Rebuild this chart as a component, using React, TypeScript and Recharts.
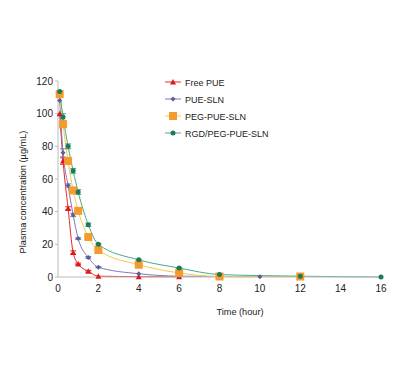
import React from 'react';
import { LineChart, Line, XAxis, YAxis, ErrorBar } from 'recharts';

const seriesNames = ['Free PUE', 'PUE-SLN', 'PEG-PUE-SLN', 'RGD/PEG-PUE-SLN'];

const freeTime = [0.083, 0.25, 0.5, 0.75, 1, 1.5, 2, 4, 6];
const freeConc = [100, 71, 42, 15, 8, 3.5, 0.5, 0.2, 0.1];
const freeErr = [0, 2, 1, 1, 0.5, 0.5, 0, 0, 0];

const slnTime = [0.083, 0.25, 0.5, 0.75, 1, 1.5, 2, 4, 6, 10];
const slnConc = [108, 76, 56, 38, 23.5, 12, 6, 2, 0.5, 0.2];
const slnErr = [0, 2.5, 1, 1, 0.5, 0.5, 0.3, 0, 0, 0];

const pegTime = [0.083, 0.25, 0.5, 0.75, 1, 1.5, 2, 4, 6, 8, 12];
const pegConc = [112, 93.5, 71, 53, 40.5, 24.5, 16.5, 7.5, 2.5, 0.3, 0.3];
const pegErr = [0, 1, 1, 1, 1, 1, 0.5, 0.5, 0, 0, 0];

const rgdTime = [0.083, 0.25, 0.5, 0.75, 1, 1.5, 2, 4, 6, 8, 12, 16];
const rgdConc = [113.5, 98, 80, 65, 52, 32, 20, 10.5, 5.5, 1.5, 0.5, 0];
const rgdErr = [0, 2, 1.5, 1.5, 1.5, 1, 0.5, 0.3, 0.3, 0, 0, 0];

const xTicks = [0, 2, 4, 6, 8, 10, 12, 14, 16];
const yTicks = [0, 20, 40, 60, 80, 100, 120];

const font = 'Liberation Sans, Arial, sans-serif';

const build = (t: number[], c: number[], e: number[]) =>
  t.map((time, i) => ({ time, conc: c[i], err: e[i] }));

const Tri = (props: any) => {
  const { cx, cy } = props;
  if (cx == null || cy == null) return null;
  return <polygon points={`${cx},${cy - 3} ${cx - 3},${cy + 2.5} ${cx + 3},${cy + 2.5}`} fill="#e0161c" />;
};
const Dia = (props: any) => {
  const { cx, cy } = props;
  if (cx == null || cy == null) return null;
  return <polygon points={`${cx},${cy - 2.5} ${cx + 2.5},${cy} ${cx},${cy + 2.5} ${cx - 2.5},${cy}`} fill="#5c5c98" />;
};
const Sq = (props: any) => {
  const { cx, cy } = props;
  if (cx == null || cy == null) return null;
  return <rect x={cx - 4} y={cy - 4} width={8} height={8} fill="#f59a2c" />;
};
const Circ = (props: any) => {
  const { cx, cy } = props;
  if (cx == null || cy == null) return null;
  return <circle cx={cx} cy={cy} r={2.5} fill="#1b7a58" />;
};

const series = [
  { name: seriesNames[0], data: build(freeTime, freeConc, freeErr), line: '#e8282c', dot: Tri },
  { name: seriesNames[1], data: build(slnTime, slnConc, slnErr), line: '#7b7bb0', dot: Dia },
  { name: seriesNames[2], data: build(pegTime, pegConc, pegErr), line: '#f6c94a', dot: Sq },
  { name: seriesNames[3], data: build(rgdTime, rgdConc, rgdErr), line: '#4aaa86', dot: Circ },
];

const LegendBox = () => (
  <svg width={140} height={72} style={{ position: 'absolute', left: 163, top: 74 }}>
    {series.map((s, i) => {
      const y = 8 + i * 17;
      const D = s.dot;
      return (
        <g key={s.name}>
          <line x1={2} x2={18} y1={y} y2={y} stroke={s.line} strokeWidth={1} />
          <D cx={10} cy={y} />
          <text x={22} y={y + 3.5} fontSize={9} fill="#222" fontFamily={font}>
            {s.name}
          </text>
        </g>
      );
    })}
  </svg>
);

const YTitle = () => (
  <text x={23} y={192} transform="rotate(-90 23 192)" textAnchor="middle" dominantBaseline="central"
    fontSize={9.2} fill="#222" fontFamily={font}>
    Plasma concentration (µg/mL)
  </text>
);

const XTitle = () => (
  <text x={240} y={312} textAnchor="middle" dominantBaseline="central" fontSize={9.2} fill="#222" fontFamily={font}>
    Time (hour)
  </text>
);

export default function App() {
  return (
    <div style={{ position: 'absolute', left: 0, top: 0, width: 406, height: 391, background: '#fff' }}>
      <LineChart width={406} height={391} margin={{ top: 81, right: 25, bottom: 69, left: 18 }}
        style={{ fontFamily: font }}>
        <XAxis type="number" dataKey="time" domain={[0, 16]} ticks={xTicks} allowDuplicatedCategory={false}
          height={45} tick={{ fontSize: 10, fill: '#222' }} tickLine={false}
          axisLine={{ stroke: '#bbb' }} label={<XTitle />} />
        <YAxis type="number" domain={[0, 120]} ticks={yTicks} width={40}
          tick={{ fontSize: 10, fill: '#222' }} tickSize={3} tickLine={{ stroke: '#bbb' }}
          axisLine={{ stroke: '#bbb' }} label={<YTitle />} />
        {series.map((s) => (
          <Line key={s.name} data={s.data} dataKey="conc" name={s.name} type="monotone"
            stroke={s.line} strokeWidth={1} dot={<s.dot />} activeDot={false} isAnimationActive={false}>
            <ErrorBar dataKey="err" width={3} stroke={s.line} strokeWidth={1} direction="y" />
          </Line>
        ))}
      </LineChart>
      <LegendBox />
    </div>
  );
}
